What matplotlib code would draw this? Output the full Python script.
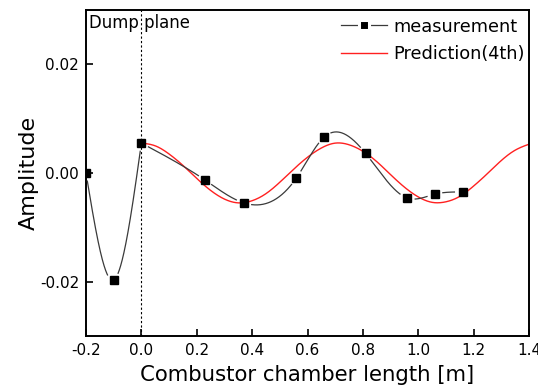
import numpy as np
import matplotlib
matplotlib.use("Agg")
import matplotlib.pyplot as plt
from matplotlib.lines import Line2D

plt.rcParams['font.family'] = ['DejaVu Sans']

# measurement data
meas_x = [-0.20, -0.10, 0.00, 0.23, 0.37, 0.56, 0.66, 0.81, 0.96, 1.06, 1.16]
meas_y = [0.0000, -0.0197, 0.0055, -0.0013, -0.0055, -0.0009, 0.0066, 0.0036, -0.0046, -0.0039, -0.0035]

# prediction (4th mode)
pred_x = [0.00, 0.05, 0.10, 0.15, 0.20, 0.25, 0.30, 0.35, 0.40, 0.45, 0.50, 0.55, 0.60, 0.65,
          0.70, 0.75, 0.80, 0.85, 0.90, 0.95, 1.00, 1.05, 1.10, 1.15, 1.20, 1.25, 1.30, 1.35, 1.40]
pred_y = [0.0055, 0.0050, 0.0035, 0.0014, -0.0010, -0.0032, -0.0048, -0.0055, -0.0051, -0.0038,
          -0.0017, 0.0007, 0.0029, 0.0046, 0.0055, 0.0052, 0.0040, 0.0021, -0.0003, -0.0026,
          -0.0044, -0.0054, -0.0053, -0.0043, -0.0024, -0.0001, 0.0023, 0.0042, 0.0053]

x_ticks = [-0.2, 0.0, 0.2, 0.4, 0.6, 0.8, 1.0, 1.2, 1.4]
y_ticks = [-0.02, 0.00, 0.02]


def natural_spline(x, y, xs):
    x = np.asarray(x, float); y = np.asarray(y, float)
    n = len(x); h = np.diff(x)
    A = np.zeros((n, n)); b = np.zeros(n)
    A[0, 0] = 1; A[-1, -1] = 1
    for i in range(1, n - 1):
        A[i, i - 1] = h[i - 1]
        A[i, i] = 2 * (h[i - 1] + h[i])
        A[i, i + 1] = h[i]
        b[i] = 6 * ((y[i + 1] - y[i]) / h[i] - (y[i] - y[i - 1]) / h[i - 1])
    M = np.linalg.solve(A, b)
    idx = np.clip(np.searchsorted(x, xs) - 1, 0, n - 2)
    x0 = x[idx]; x1 = x[idx + 1]; hh = x1 - x0
    t0 = x1 - xs; t1 = xs - x0
    return (M[idx] * t0**3 / (6 * hh) + M[idx + 1] * t1**3 / (6 * hh)
            + (y[idx] / hh - M[idx] * hh / 6) * t0 + (y[idx + 1] / hh - M[idx + 1] * hh / 6) * t1)


fig = plt.figure(figsize=(5.38, 3.88), dpi=100)
ax = fig.add_axes([86 / 538, 52 / 388, (529 - 86) / 538, (336 - 10) / 388])
ax.set_xlim(-0.2, 1.4)
ax.set_ylim(-0.03, 0.03)

mk = ax.transData.transform(np.column_stack([meas_x, meas_y]))

# smooth measurement line (upstream and downstream of dump plane) with gaps around markers
split = meas_x.index(0.00)
for seg in (slice(0, split + 1), slice(split, len(meas_x))):
    sx = meas_x[seg]; sy = meas_y[seg]
    xs = np.linspace(min(sx), max(sx), 1500)
    ys = natural_spline(sx, sy, xs)
    pts = ax.transData.transform(np.column_stack([xs, ys]))
    d = np.min(np.hypot(pts[:, None, 0] - mk[None, :, 0], pts[:, None, 1] - mk[None, :, 1]), axis=1)
    ax.plot(xs, np.where(d < 8.0, np.nan, ys), color='#3a3a3a', lw=0.9, zorder=3)

# prediction curve (smooth through read values)
pxs = np.linspace(min(pred_x), max(pred_x), 800)
ax.plot(pxs, natural_spline(pred_x, pred_y, pxs), color='#ff2020', lw=1.0, zorder=2)

ax.plot(meas_x, meas_y, ls='none', marker='s', ms=5.8, color='black', zorder=4)

# dump plane
ax.axvline(0.0, color='black', lw=0.8, ls=(0, (2, 2)), zorder=1)
ax.text(-0.189, 0.96, 'Dump plane', transform=ax.get_xaxis_transform(),
        fontsize=11.9, va='center', ha='left')

ax.set_xticks(x_ticks)
ax.set_xticklabels(['%.1f' % v for v in x_ticks])
ax.set_yticks(y_ticks)
ax.set_yticklabels(['%.2f' % v for v in y_ticks])
ax.tick_params(direction='in', length=5, width=1.2, labelsize=11, pad=5)
for s in ax.spines.values():
    s.set_linewidth(1.4)

ax.set_xlabel('Combustor chamber length [m]', fontsize=15.3, labelpad=5)
ax.set_ylabel('Amplitude', fontsize=16, labelpad=0.5)

h1 = Line2D([], [], color='#3a3a3a', lw=0.9, marker='s', ms=7.2, mfc='black',
            mec='white', mew=2.2)
h2 = Line2D([], [], color='#ff2020', lw=1.0)
ax.legend([h1, h2], ['measurement', 'Prediction(4th)'], loc='upper right', frameon=False,
          fontsize=12.8, numpoints=1, handlelength=2.6, handletextpad=0.35,
          bbox_to_anchor=(1.0, 0.99), borderaxespad=0.1, borderpad=0.15, labelspacing=0.55)

fig.savefig('out.png', dpi=100)
